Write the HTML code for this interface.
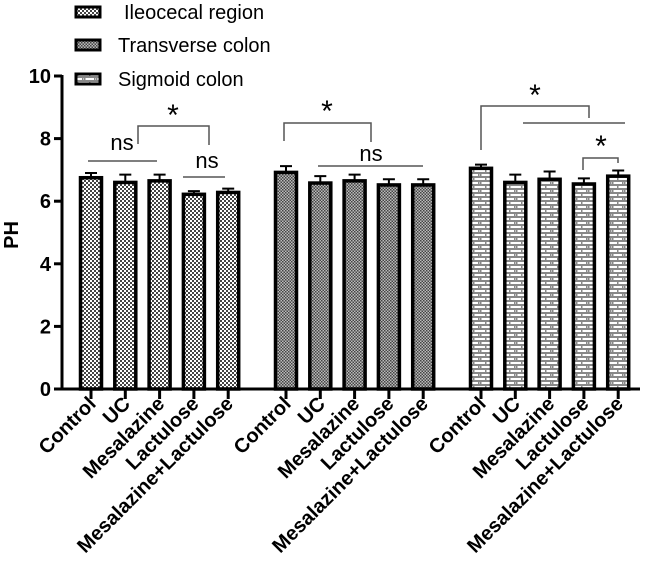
<!DOCTYPE html>
<html><head><meta charset="utf-8"><style>
body{margin:0;background:#fff}
svg{display:block;font-family:"Liberation Sans",Arial,sans-serif}
</style></head><body>
<svg id="chart" width="645" height="569" viewBox="0 0 645 569">
<defs>
<pattern id="p1" width="4" height="4" patternUnits="userSpaceOnUse"><rect width="4" height="4" fill="#fff"/><rect width="2" height="2" fill="#444"/><rect x="2" y="2" width="2" height="2" fill="#444"/></pattern>
<pattern id="p2" width="3" height="3" patternUnits="userSpaceOnUse"><rect width="3" height="3" fill="#bbb"/><rect width="1.5" height="1.5" fill="#444"/><rect x="1.5" y="1.5" width="1.5" height="1.5" fill="#444"/></pattern>
<pattern id="p3" width="12" height="8" patternUnits="userSpaceOnUse"><rect width="12" height="8" fill="#fff"/><rect y="0" width="12" height="2" fill="#888"/><rect y="4" width="12" height="2" fill="#888"/><rect x="5" y="0" width="1.5" height="4" fill="#888"/><rect x="0" y="4" width="1.5" height="4" fill="#888"/><rect x="10" y="4" width="1.5" height="4" fill="#888"/></pattern>
</defs>
<g id="g"></g>
</svg>
<script>
const categories=["Control","UC","Mesalazine","Lactulose","Mesalazine+Lactulose"];
const seriesNames=["Ileocecal region","Transverse colon","Sigmoid colon"];
const ileocecal=[6.75,6.6,6.65,6.22,6.28];
const ileocecalErr=[0.15,0.25,0.2,0.1,0.12];
const transverse=[6.92,6.58,6.65,6.52,6.52];
const transverseErr=[0.2,0.22,0.2,0.18,0.18];
const sigmoid=[7.05,6.6,6.7,6.55,6.8];
const sigmoidErr=[0.12,0.25,0.25,0.18,0.18];
const yTicks=[0,2,4,6,8,10];

const NS="http://www.w3.org/2000/svg";
const g=document.getElementById('g');
function el(t,a,txt){const e=document.createElementNS(NS,t);for(const k in a)e.setAttribute(k,a[k]);if(txt!=null)e.textContent=txt;g.appendChild(e);return e;}
const y=v=>389-v*31.3;
const groupStart=[91,286,481];
const step=34.3;
const x=(gi,ci)=>groupStart[gi]+ci*step;
const bw=21;
const series=[ileocecal,transverse,sigmoid];
const errs=[ileocecalErr,transverseErr,sigmoidErr];
const fills=["url(#p1)","url(#p2)","url(#p3)"];

let a=el('line',{x1:62,y1:75,x2:62,y2:390,stroke:'#000','stroke-width':3});

a=el('line',{x1:61,y1:389,x2:640,y2:389,stroke:'#000','stroke-width':3});

yTicks.forEach(t=>{
 const l=el('line',{x1:54,y1:y(t),x2:62,y2:y(t),stroke:'#000','stroke-width':3});
 
 const tx=el('text',{x:51,y:y(t)+7,'text-anchor':'end','font-size':20,'font-weight':'bold'},t);
 
});
const yt=el('text',{x:0,y:0,transform:'translate(18,235) rotate(-90)','text-anchor':'middle','font-size':20,'font-weight':'bold'},'PH');


series.forEach((s,gi)=>{
 s.forEach((v,ci)=>{
  const cx=x(gi,ci);
  const e=errs[gi][ci];
  const eb=el('path',{d:`M${cx},${y(v)} V${y(v+e)} M${cx-6},${y(v+e)} H${cx+6}`,stroke:'#000','stroke-width':2,fill:'none'});
  
  const r=el('rect',{x:cx-bw/2,y:y(v),width:bw,height:389-y(v),fill:fills[gi],stroke:'#000','stroke-width':3.5});
  
  const tk=el('line',{x1:cx,y1:389,x2:cx,y2:399,stroke:'#000','stroke-width':3});
  
  const lb=el('text',{x:0,y:0,transform:`translate(${cx+6},${405}) rotate(-45)`,'text-anchor':'end','font-size':20,'font-weight':'bold'},categories[ci]);
  
 });
});

function ln(d,name){const p=el('path',{d:d,stroke:'#555','stroke-width':1.5,fill:'none'});}
function tx(xx,yy,t,name,fs){const e=el('text',{x:xx,y:yy,'text-anchor':'middle','font-size':fs||22},t);}
ln('M88,161 H157','ns-line-1');tx(122,150,'ns','ns-label-1');
ln('M138,144 V126 H209 V145','star-bracket-1');tx(173,125,'*','star-label-1',30);
ln('M183,177 H225','ns-line-2');tx(207,168,'ns','ns-label-2');
ln('M284,141 V123 H371 V142','star-bracket-2');tx(327,121,'*','star-label-2',30);
ln('M318,166 H423','ns-line-3');tx(371,161,'ns','ns-label-3');
ln('M481,150 V106 H589 V118','star-bracket-3');tx(535,105,'*','star-label-3',30);
ln('M523,123 H625','line-3b');
ln('M583,170 V158 H618 V163','star-bracket-4');tx(601,156,'*','star-label-4',30);

const ly=[12,45,79];
seriesNames.forEach((n,i)=>{
 const r=el('rect',{x:76,y:ly[i]-5,width:24,height:10,fill:fills[i],stroke:'#000','stroke-width':3});
 
 const t=el('text',{x:i==0?124:118,y:ly[i]+7,'font-size':20},n);
 
});
</script>
</body></html>
